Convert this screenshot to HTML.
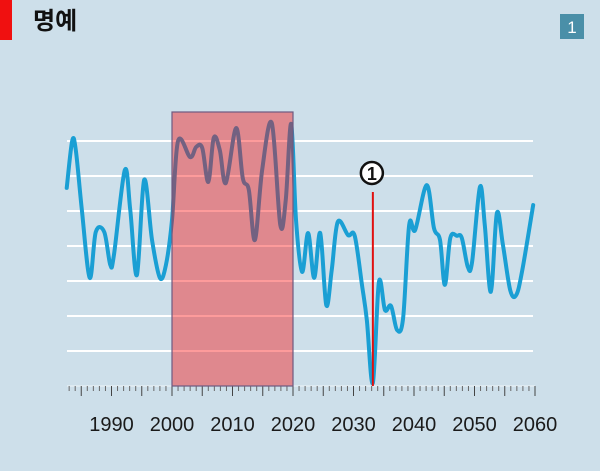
<!DOCTYPE html>
<html><head><meta charset="utf-8"><style>
body{margin:0;background:#cddfea;width:600px;height:466px;overflow:hidden;font-family:"Liberation Sans","Noto Sans CJK KR",sans-serif}
</style></head><body>
<svg width="600" height="466" viewBox="0 0 600 466">
<rect x="0" y="0" width="600" height="466" fill="#cddfea"/>
<rect x="0" y="0" width="12" height="40" fill="#f01010"/>
<text x="33" y="29" font-size="24" font-weight="bold" fill="#111" font-family="'Noto Sans CJK KR',sans-serif">명예</text>
<rect x="560" y="14" width="24" height="25" fill="#4a8fa8"/>
<text x="572" y="33" font-size="17" fill="#fff" text-anchor="middle">1</text>
<g id="grid"></g><g id="axis"></g><g id="series"></g><g id="overlay"></g>
</svg>
<script>
const years=[1982.6,1983.5,1984.1,1985.1,1986.4,1987.4,1988.8,1989.8,1990.4,1992.2,1993.1,1994.2,1995.4,1996.7,1998.0,1999.0,2000.0,2001.0,2003.0,2004.0,2005.0,2006.0,2006.9,2007.9,2008.9,2010.6,2011.7,2012.7,2013.7,2014.9,2016.5,2017.9,2018.8,2019.7,2020.5,2021.5,2022.5,2023.5,2024.5,2025.5,2026.4,2027.4,2029.1,2030.2,2031.4,2032.2,2033.2,2034.2,2035.2,2036.2,2037.2,2038.2,2039.2,2040.2,2042.1,2043.3,2044.3,2045.1,2046.0,2047.1,2047.9,2048.9,2049.6,2050.9,2051.7,2052.7,2053.7,2054.7,2055.9,2056.9,2057.9,2059.7];
const values=[5.66,7,6.74,5.03,3.09,4.4,4.4,3.46,3.74,6.17,5.03,3.17,5.89,4.17,3.09,3.46,4.74,7,6.54,6.83,6.8,5.83,7.09,6.74,5.8,7.37,5.94,5.6,4.17,6.17,7.51,4.6,5.31,7.49,4.74,3.26,4.37,3.09,4.37,2.31,3.31,4.69,4.31,4.29,2.89,1.89,0.09,2.97,2.17,2.29,1.6,1.94,4.6,4.46,5.74,4.51,4.17,2.89,4.23,4.29,4.23,3.4,3.54,5.69,4.6,2.69,4.94,4.03,2.74,2.6,3.31,5.17];
const tickLabels=[1990,2000,2010,2020,2030,2040,2050,2060];
const gridValues=[1,2,3,4,5,6,7];
const highlightRange=[2000,2020];
const markerYear=2033.2;
const NS="http://www.w3.org/2000/svg";
const X=y=>172+(y-2000)*6.05;
const Y=v=>386-35*v;
function el(t,a,p){const e=document.createElementNS(NS,t);for(const k in a)e.setAttribute(k,a[k]);p.appendChild(e);return e;}
const grid=document.getElementById('grid');
gridValues.forEach(v=>{
 const l=el('line',{x1:67,x2:533,y1:Y(v),y2:Y(v),stroke:'#fff','stroke-width':2},grid);
 
 
});
const axis=document.getElementById('axis');
const base=el('line',{x1:67,x2:535,y1:386,y2:386,stroke:'#eef4f8','stroke-width':1},axis);


for(let yr=1983;yr<=2060;yr++){
 const major=yr%5===0;
 const t=el('line',{x1:X(yr),x2:X(yr),y1:386,y2:major?396:391,stroke:major?'#444':'#666','stroke-width':1},axis);
 
 
}
tickLabels.forEach(yr=>{
 const t=el('text',{x:X(yr),y:431,'font-size':20,fill:'#1a1a1a','text-anchor':'middle'},axis);
 t.textContent=yr;
 
 
});
const pts=years.map((y,i)=>[X(y),Y(values[i])]);
let d='M'+pts[0][0]+','+pts[0][1];
for(let i=0;i<pts.length-1;i++){
 const p0=pts[Math.max(0,i-1)],p1=pts[i],p2=pts[i+1],p3=pts[Math.min(pts.length-1,i+2)];
 const c1=[p1[0]+(p2[0]-p0[0])/6,p1[1]+(p2[1]-p0[1])/6];
 const c2=[p2[0]-(p3[0]-p1[0])/6,p2[1]-(p3[1]-p1[1])/6];
 d+=` C${c1[0]},${c1[1]} ${c2[0]},${c2[1]} ${p2[0]},${p2[1]}`;
}
const line=el('path',{d:d,fill:'none',stroke:'#1a9fd4','stroke-width':4,'stroke-linejoin':'round','stroke-linecap':'round'},document.getElementById('series'));


const ov=document.getElementById('overlay');
const hr=el('rect',{x:X(highlightRange[0]),y:112,width:X(highlightRange[1])-X(highlightRange[0]),height:274,fill:'rgba(250,5,5,0.4)',stroke:'#6e5a80','stroke-width':1.2},ov);


const ml=el('line',{x1:X(markerYear),x2:X(markerYear),y1:192,y2:386,stroke:'#e01010','stroke-width':2},ov);


const mc=el('circle',{cx:X(markerYear)-1,cy:173,r:11,fill:'#fff',stroke:'#111','stroke-width':2.5},ov);


const mt=el('text',{x:X(markerYear)-1,y:180,'font-size':18,'font-weight':'bold',fill:'#111','text-anchor':'middle'},ov);
mt.textContent='1';


</script>
</body></html>
